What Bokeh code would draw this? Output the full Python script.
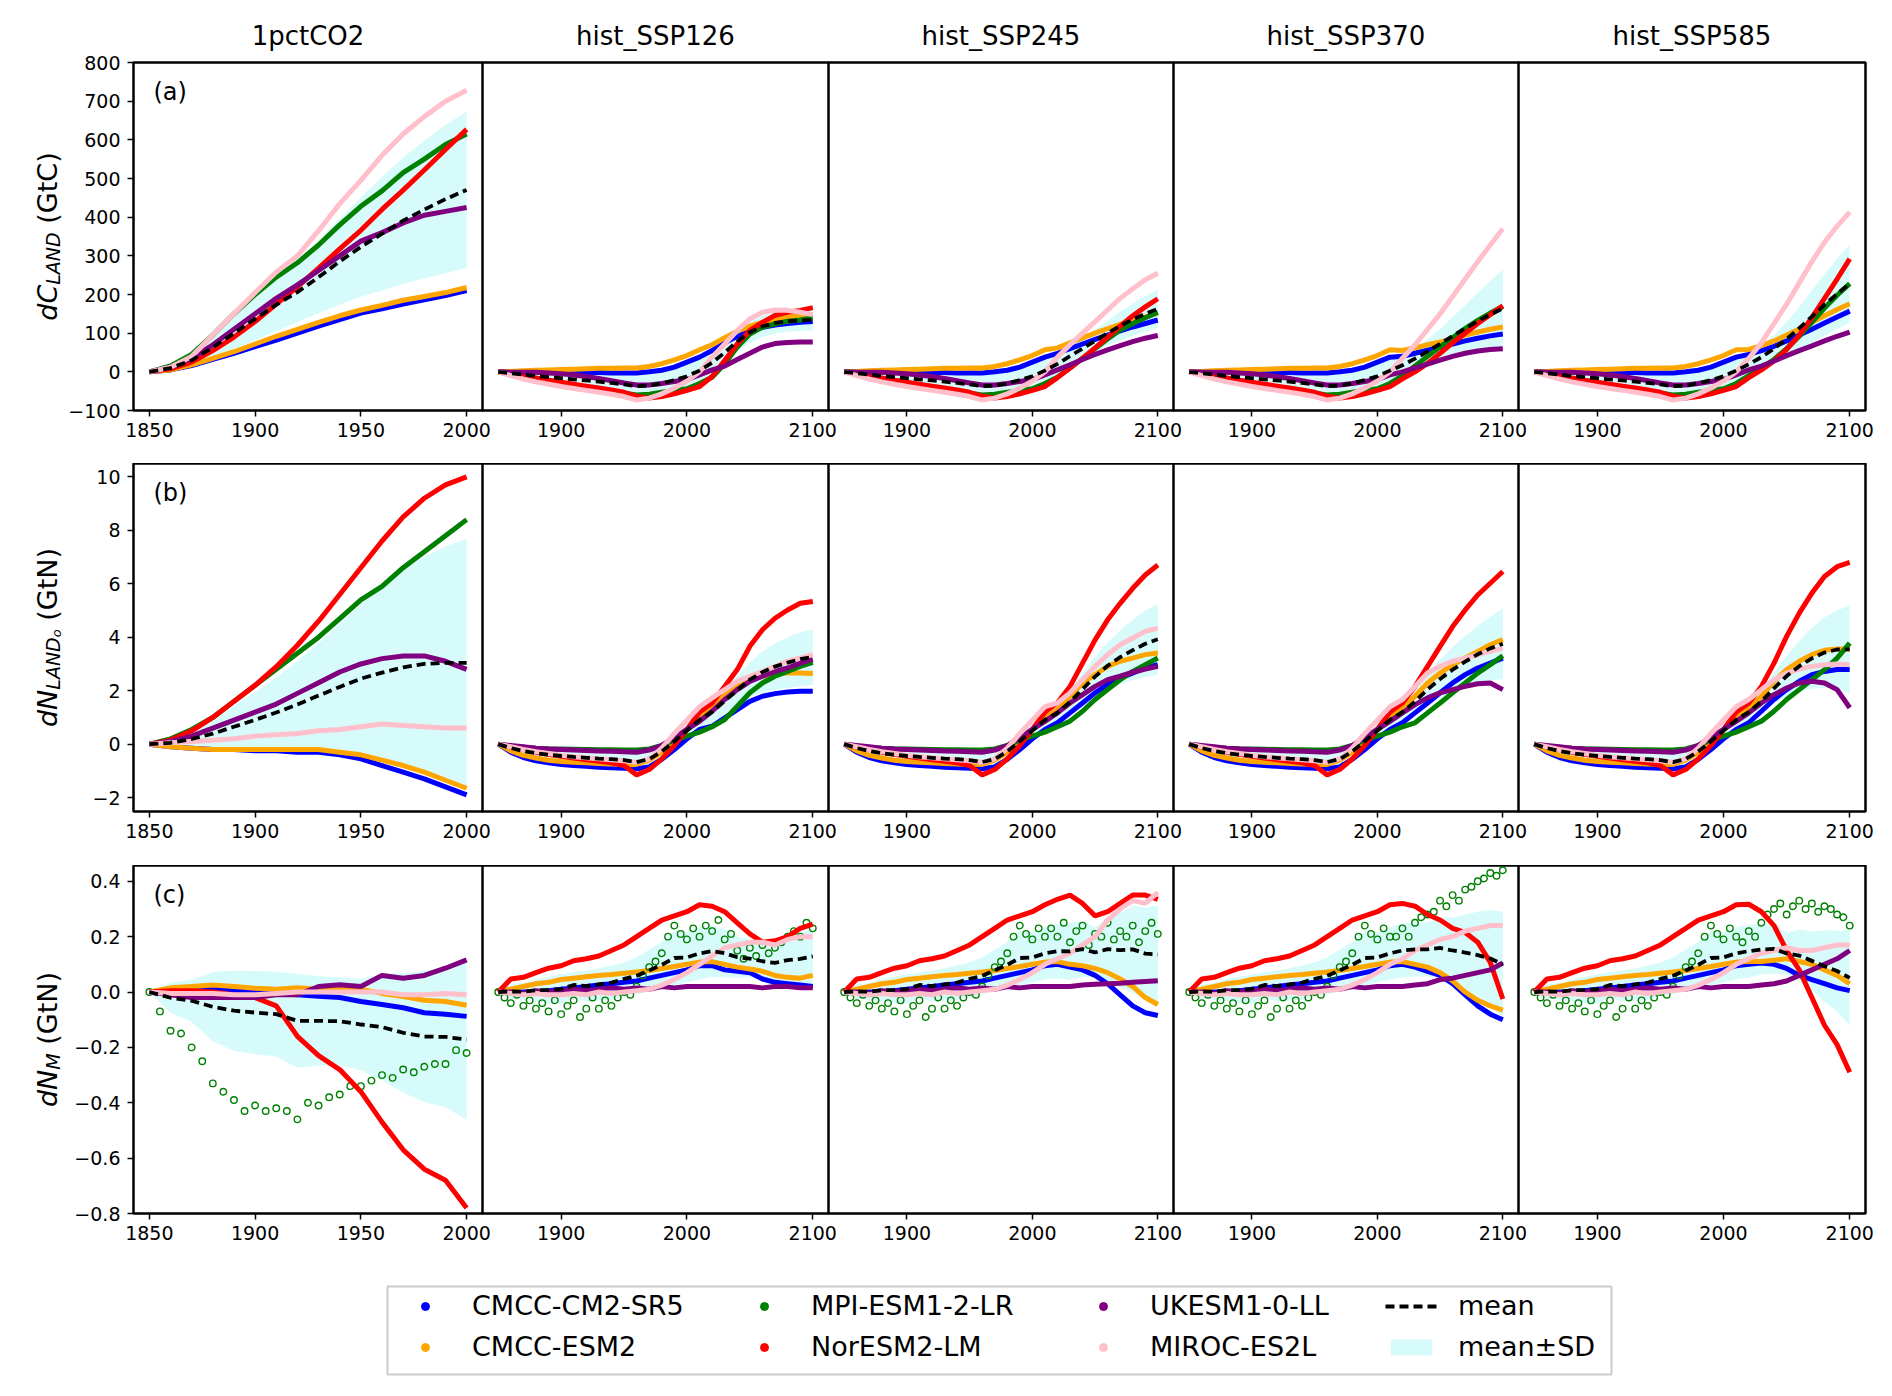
import numpy as np
from bokeh.plotting import figure
from bokeh.models import (Range1d, FixedTicker, CustomJSTickFormatter, Label,
                          Legend, LegendItem, Title, ColumnDataSource)
from bokeh.layouts import row, column
from bokeh.embed import file_html
from bokeh.resources import INLINE

FONT = "DejaVu Sans"

MODELS = ["CMCC-CM2-SR5", "CMCC-ESM2", "MPI-ESM1-2-LR", "NorESM2-LM", "UKESM1-0-LL", "MIROC-ES2L"]
COLORS = ["blue", "orange", "green", "red", "purple", "pink"]
SCENARIOS = ["1pctCO2", "hist_SSP126", "hist_SSP245", "hist_SSP370", "hist_SSP585"]

YEARS_1PCT = list(range(1850, 2001, 10))
YEARS_1PCT_5 = list(range(1850, 2001, 5))
YEARS_HIST = list(range(1850, 2011, 10))
YEARS_HIST_5 = list(range(1850, 2011, 5))
YEARS_SSP = list(range(2020, 2101, 10))
YEARS_SSP_5 = list(range(2015, 2101, 5))

# ---------------- (a) dC_LAND (GtC) ----------------
dC_1pct = {
    "CMCC-CM2-SR5": [0, 5, 16, 32, 48, 65, 82, 100, 118, 135, 152, 163, 175, 186, 197, 210],
    "CMCC-ESM2":    [0, 5, 18, 35, 52, 72, 92, 110, 128, 145, 160, 172, 185, 195, 205, 218],
    "MPI-ESM1-2-LR": [0, 15, 45, 95, 150, 200, 245, 282, 328, 380, 428, 468, 515, 550, 588, 615],
    "NorESM2-LM":   [0, 8, 25, 55, 90, 130, 175, 220, 268, 318, 366, 420, 470, 522, 575, 627],
    "UKESM1-0-LL":  [0, 12, 35, 70, 110, 150, 190, 225, 262, 300, 338, 360, 385, 405, 415, 425],
    "MIROC-ES2L":   [0, 12, 40, 95, 150, 205, 258, 300, 365, 435, 495, 560, 615, 660, 700, 728],
}
dC_hist = {
    "CMCC-CM2-SR5": [0, 0, 0, 0, 0, 0, -1, -2, -2, -3, -3, -3, 0, 4, 12, 25, 38],
    "CMCC-ESM2":    [0, 1, 3, 4, 5, 6, 7, 8, 9, 9, 10, 10, 14, 21, 31, 42, 57],
    "MPI-ESM1-2-LR": [0, -7, -15, -24, -30, -35, -39, -43, -47, -51, -55, -60, -58, -53, -48, -44, -30],
    "NorESM2-LM":   [0, -5, -10, -16, -22, -27, -32, -37, -42, -47, -53, -63, -68, -64, -57, -48, -38],
    "UKESM1-0-LL":  [0, -1, -1, -1, -3, -5, -8, -12, -17, -23, -29, -34, -34, -30, -25, -20, -8],
    "MIROC-ES2L":   [0, -10, -19, -26, -32, -38, -43, -48, -53, -58, -64, -73, -68, -57, -42, -24, 0],
}
dC_ssp126 = {
    "CMCC-CM2-SR5": [55, 75, 92, 105, 115, 121, 125, 128, 130],
    "CMCC-ESM2":    [70, 88, 105, 118, 128, 135, 141, 145, 148],
    "MPI-ESM1-2-LR": [-14, 21, 64, 98, 116, 124, 131, 134, 139],
    "NorESM2-LM":   [-12, 29, 72, 107, 128, 146, 154, 159, 166],
    "UKESM1-0-LL":  [5, 15, 32, 48, 64, 73, 76, 77, 77],
    "MIROC-ES2L":   [38, 72, 107, 137, 154, 160, 159, 154, 148],
}
dC_ssp245 = {
    "CMCC-CM2-SR5": [48, 60, 72, 84, 95, 106, 116, 125, 134],
    "CMCC-ESM2":    [62, 75, 88, 100, 112, 123, 133, 142, 152],
    "MPI-ESM1-2-LR": [-14, 10, 35, 60, 85, 108, 125, 140, 154],
    "NorESM2-LM":   [-15, 10, 35, 62, 90, 118, 145, 168, 189],
    "UKESM1-0-LL":  [5, 18, 32, 45, 57, 68, 78, 87, 94],
    "MIROC-ES2L":   [38, 70, 100, 130, 160, 190, 215, 238, 255],
}
dC_ssp370 = {
    "CMCC-CM2-SR5": [40, 48, 56, 64, 72, 80, 87, 93, 98],
    "CMCC-ESM2":    [55, 62, 70, 77, 86, 95, 103, 110, 116],
    "MPI-ESM1-2-LR": [-10, 15, 40, 65, 88, 112, 133, 152, 169],
    "NorESM2-LM":   [-18, 0, 22, 48, 75, 100, 125, 148, 171],
    "UKESM1-0-LL":  [0, 10, 20, 30, 40, 48, 54, 58, 60],
    "MIROC-ES2L":   [35, 70, 110, 150, 195, 240, 285, 328, 370],
}
dC_ssp585 = {
    "CMCC-CM2-SR5": [45, 55, 66, 80, 95, 110, 126, 142, 157],
    "CMCC-ESM2":    [58, 68, 80, 95, 110, 128, 145, 161, 176],
    "MPI-ESM1-2-LR": [-10, 10, 32, 60, 92, 128, 165, 198, 228],
    "NorESM2-LM":   [-15, 5, 28, 58, 95, 140, 190, 240, 292],
    "UKESM1-0-LL":  [5, 15, 28, 42, 55, 67, 80, 92, 103],
    "MIROC-ES2L":   [35, 75, 125, 175, 230, 285, 335, 377, 413],
}

# ---------------- (b) dN_LANDo (GtN) ----------------
dN_1pct = {
    "CMCC-CM2-SR5": [0, -0.1, -0.15, -0.2, -0.2, -0.25, -0.25, -0.3, -0.3, -0.4, -0.55, -0.8, -1.05, -1.3, -1.6, -1.9],
    "CMCC-ESM2":    [0, -0.1, -0.15, -0.2, -0.2, -0.2, -0.2, -0.2, -0.2, -0.3, -0.4, -0.6, -0.8, -1.05, -1.35, -1.65],
    "MPI-ESM1-2-LR": [0, 0.2, 0.55, 1.0, 1.6, 2.2, 2.8, 3.4, 4.0, 4.7, 5.4, 5.9, 6.6, 7.2, 7.8, 8.4],
    "NorESM2-LM":   [0, 0.15, 0.5, 1.0, 1.6, 2.2, 2.9, 3.7, 4.6, 5.6, 6.6, 7.6, 8.5, 9.2, 9.7, 10.0],
    "UKESM1-0-LL":  [0, 0.1, 0.3, 0.6, 0.9, 1.2, 1.5, 1.9, 2.3, 2.7, 3.0, 3.2, 3.3, 3.3, 3.1, 2.8],
    "MIROC-ES2L":   [0, 0.05, 0.1, 0.15, 0.2, 0.3, 0.35, 0.4, 0.5, 0.55, 0.65, 0.75, 0.7, 0.65, 0.6, 0.6],
}
dN_hist = {
    "CMCC-CM2-SR5": [0, -0.3, -0.5, -0.62, -0.7, -0.76, -0.8, -0.83, -0.86, -0.88, -0.9, -0.92, -0.85, -0.57, -0.2, 0.2, 0.55],
    "CMCC-ESM2":    [0, -0.25, -0.42, -0.52, -0.6, -0.65, -0.68, -0.7, -0.72, -0.74, -0.76, -0.76, -0.6, -0.3, 0.1, 0.55, 1.0],
    "MPI-ESM1-2-LR": [0, -0.08, -0.12, -0.15, -0.17, -0.18, -0.19, -0.2, -0.21, -0.21, -0.22, -0.22, -0.18, -0.05, 0.15, 0.3, 0.45],
    "NorESM2-LM":   [0, -0.1, -0.2, -0.3, -0.38, -0.45, -0.52, -0.58, -0.64, -0.7, -0.8, -1.15, -0.95, -0.55, -0.05, 0.55, 1.2],
    "UKESM1-0-LL":  [0, -0.05, -0.1, -0.15, -0.18, -0.2, -0.22, -0.24, -0.26, -0.27, -0.28, -0.3, -0.22, -0.05, 0.25, 0.55, 0.85],
    "MIROC-ES2L":   [0, -0.1, -0.2, -0.28, -0.35, -0.42, -0.47, -0.51, -0.55, -0.58, -0.62, -0.68, -0.55, -0.15, 0.4, 0.9, 1.4],
}
dN_ssp126 = {
    "CMCC-CM2-SR5": [0.67, 0.98, 1.29, 1.6, 1.79, 1.89, 1.95, 1.98, 1.98],
    "CMCC-ESM2":    [1.42, 1.92, 2.23, 2.41, 2.54, 2.64, 2.66, 2.66, 2.64],
    "MPI-ESM1-2-LR": [0.65, 0.92, 1.42, 1.92, 2.29, 2.54, 2.72, 2.91, 3.06],
    "NorESM2-LM":   [1.54, 2.16, 2.79, 3.66, 4.28, 4.71, 5.02, 5.27, 5.34],
    "UKESM1-0-LL":  [1.23, 1.67, 2.04, 2.35, 2.54, 2.72, 2.85, 3.03, 3.18],
    "MIROC-ES2L":   [1.73, 2.04, 2.35, 2.54, 2.72, 2.91, 3.1, 3.22, 3.35],
}
dN_ssp245 = {
    "CMCC-CM2-SR5": [0.8, 1.17, 1.54, 1.92, 2.23, 2.48, 2.66, 2.85, 2.97],
    "CMCC-ESM2":    [1.29, 1.79, 2.29, 2.6, 2.91, 3.1, 3.22, 3.35, 3.41],
    "MPI-ESM1-2-LR": [0.65, 0.86, 1.23, 1.67, 2.04, 2.41, 2.72, 2.97, 3.22],
    "NorESM2-LM":   [1.55, 2.16, 3.03, 3.9, 4.65, 5.27, 5.83, 6.33, 6.7],
    "UKESM1-0-LL":  [1.17, 1.54, 1.85, 2.16, 2.41, 2.54, 2.69, 2.81, 2.91],
    "MIROC-ES2L":   [1.54, 1.92, 2.41, 2.91, 3.35, 3.72, 3.97, 4.22, 4.34],
}
dN_ssp370 = {
    "CMCC-CM2-SR5": [0.8, 1.17, 1.54, 1.92, 2.29, 2.6, 2.85, 3.03, 3.22],
    "CMCC-ESM2":    [1.36, 1.79, 2.29, 2.66, 2.97, 3.22, 3.47, 3.72, 3.91],
    "MPI-ESM1-2-LR": [0.65, 0.8, 1.17, 1.54, 1.92, 2.29, 2.66, 2.97, 3.31],
    "NorESM2-LM":   [1.54, 2.16, 2.91, 3.66, 4.4, 5.02, 5.58, 6.02, 6.46],
    "UKESM1-0-LL":  [1.17, 1.48, 1.73, 1.92, 2.04, 2.16, 2.26, 2.29, 2.04],
    "MIROC-ES2L":   [1.67, 2.16, 2.66, 2.91, 3.1, 3.22, 3.35, 3.47, 3.6],
}
dN_ssp585 = {
    "CMCC-CM2-SR5": [0.8, 1.23, 1.67, 2.04, 2.35, 2.6, 2.72, 2.79, 2.79],
    "CMCC-ESM2":    [1.36, 1.79, 2.35, 2.79, 3.1, 3.35, 3.51, 3.56, 3.56],
    "MPI-ESM1-2-LR": [0.65, 0.86, 1.23, 1.67, 2.04, 2.41, 2.79, 3.22, 3.78],
    "NorESM2-LM":   [1.54, 2.16, 3.03, 4.03, 4.9, 5.65, 6.27, 6.64, 6.8],
    "UKESM1-0-LL":  [1.17, 1.54, 1.85, 2.1, 2.29, 2.35, 2.29, 2.04, 1.36],
    "MIROC-ES2L":   [1.67, 2.04, 2.41, 2.66, 2.81, 2.91, 2.97, 3.0, 2.97],
}

# ---------------- (c) dN_M (GtN) ----------------
# MPI-ESM1-2-LR is read every 5 years (scattered points); others every 10 years
dNM_1pct = {
    "CMCC-CM2-SR5": [0, 0.01, 0.01, 0.01, 0.005, 0.0, -0.005, -0.01, -0.015, -0.02, -0.034, -0.045, -0.057, -0.075, -0.08, -0.088],
    "CMCC-ESM2":    [0, 0.015, 0.02, 0.025, 0.02, 0.014, 0.01, 0.015, 0.01, 0.01, 0.01, -0.005, -0.016, -0.03, -0.034, -0.048],
    "MPI-ESM1-2-LR": [0.0, -0.07, -0.14, -0.15, -0.2, -0.25, -0.33, -0.36, -0.39, -0.43, -0.41, -0.43, -0.42, -0.43,
                      -0.46, -0.40, -0.41, -0.38, -0.37, -0.34, -0.34, -0.32, -0.30, -0.31, -0.28, -0.29, -0.27,
                      -0.26, -0.26, -0.21, -0.22],
    "NorESM2-LM":   [0, 0.005, 0.005, 0.0, -0.01, -0.02, -0.05, -0.16, -0.23, -0.28, -0.36, -0.47, -0.57, -0.64, -0.68, -0.78],
    "UKESM1-0-LL":  [0, -0.01, -0.02, -0.02, -0.02, -0.02, -0.01, -0.01, 0.02, 0.026, 0.02, 0.06, 0.05, 0.06, 0.086, 0.116],
    "MIROC-ES2L":   [0, -0.005, -0.005, -0.005, -0.01, -0.01, -0.005, 0.0, 0.0, 0.0, 0.0, 0.0, -0.01, -0.01, -0.005, -0.01],
}
dNM_hist = {
    "CMCC-CM2-SR5": [0, 0.0, 0.0, 0.0, 0.005, 0.01, 0.015, 0.02, 0.025, 0.03, 0.035, 0.04, 0.05, 0.06, 0.07, 0.08, 0.095],
    "CMCC-ESM2":    [0, 0.01, 0.02, 0.03, 0.035, 0.045, 0.05, 0.055, 0.06, 0.063, 0.068, 0.072, 0.078, 0.085, 0.092, 0.1, 0.108],
    "MPI-ESM1-2-LR": [0.0, -0.02, -0.04, -0.01, -0.05, -0.03, -0.06, -0.04, -0.07, -0.03, -0.08, -0.05, -0.03, -0.09,
                      -0.06, -0.02, -0.06, -0.03, -0.05, -0.02, 0.0, -0.01, 0.02, 0.06, 0.09, 0.11, 0.14, 0.2, 0.24,
                      0.21, 0.19, 0.23, 0.2],
    "NorESM2-LM":   [0, 0.047, 0.053, 0.07, 0.086, 0.095, 0.113, 0.12, 0.13, 0.15, 0.17, 0.2, 0.23, 0.26, 0.275, 0.29, 0.315],
    "UKESM1-0-LL":  [0, 0.0, -0.005, 0.005, 0.0, 0.005, 0.01, 0.005, 0.01, 0.015, 0.01, 0.015, 0.01, 0.02, 0.015, 0.02, 0.02],
    "MIROC-ES2L":   [0, -0.005, -0.01, -0.005, -0.01, -0.01, -0.005, -0.01, 0.0, -0.005, 0.0, 0.005, 0.01, 0.025, 0.045, 0.07, 0.1],
}
dNM_ssp126 = {
    "CMCC-CM2-SR5": [0.095, 0.08, 0.075, 0.07, 0.047, 0.035, 0.03, 0.025, 0.02],
    "CMCC-ESM2":    [0.11, 0.1, 0.09, 0.083, 0.075, 0.06, 0.053, 0.05, 0.06],
    "MPI-ESM1-2-LR": [0.24, 0.22, 0.26, 0.19, 0.21, 0.15, 0.12, 0.16, 0.13, 0.17, 0.14, 0.16, 0.18, 0.2, 0.22, 0.2, 0.25, 0.23],
    "NorESM2-LM":   [0.31, 0.29, 0.25, 0.21, 0.18, 0.185, 0.2, 0.23, 0.245],
    "UKESM1-0-LL":  [0.02, 0.02, 0.02, 0.02, 0.015, 0.02, 0.02, 0.015, 0.015],
    "MIROC-ES2L":   [0.13, 0.16, 0.17, 0.18, 0.18, 0.17, 0.19, 0.2, 0.2],
}
dNM_ssp245 = {
    "CMCC-CM2-SR5": [0.1, 0.09, 0.08, 0.06, 0.03, -0.01, -0.05, -0.075, -0.085],
    "CMCC-ESM2":    [0.11, 0.1, 0.095, 0.085, 0.07, 0.047, 0.02, -0.02, -0.045],
    "MPI-ESM1-2-LR": [0.23, 0.2, 0.25, 0.18, 0.22, 0.24, 0.17, 0.21, 0.2, 0.25, 0.19, 0.22, 0.2, 0.24, 0.18, 0.22, 0.25, 0.21],
    "NorESM2-LM":   [0.335, 0.35, 0.32, 0.275, 0.29, 0.32, 0.35, 0.35, 0.335],
    "UKESM1-0-LL":  [0.02, 0.02, 0.025, 0.028, 0.03, 0.032, 0.035, 0.038, 0.041],
    "MIROC-ES2L":   [0.12, 0.14, 0.17, 0.2, 0.26, 0.3, 0.33, 0.32, 0.36],
}
dNM_ssp370 = {
    "CMCC-CM2-SR5": [0.1, 0.09, 0.075, 0.06, 0.03, -0.01, -0.05, -0.08, -0.1],
    "CMCC-ESM2":    [0.11, 0.1, 0.09, 0.07, 0.04, 0.0, -0.03, -0.05, -0.065],
    "MPI-ESM1-2-LR": [0.2, 0.23, 0.2, 0.25, 0.27, 0.28, 0.29, 0.33, 0.31, 0.35, 0.33, 0.37, 0.38, 0.4, 0.41, 0.43, 0.42, 0.44],
    "NorESM2-LM":   [0.32, 0.31, 0.28, 0.26, 0.23, 0.215, 0.18, 0.107, -0.025],
    "UKESM1-0-LL":  [0.02, 0.025, 0.03, 0.045, 0.05, 0.06, 0.07, 0.08, 0.105],
    "MIROC-ES2L":   [0.12, 0.15, 0.17, 0.19, 0.2, 0.22, 0.23, 0.24, 0.24],
}
dNM_ssp585 = {
    "CMCC-CM2-SR5": [0.1, 0.105, 0.1, 0.085, 0.06, 0.045, 0.03, 0.015, 0.005],
    "CMCC-ESM2":    [0.11, 0.11, 0.115, 0.12, 0.11, 0.1, 0.08, 0.06, 0.03],
    "MPI-ESM1-2-LR": [0.18, 0.22, 0.2, 0.25, 0.28, 0.3, 0.32, 0.28, 0.31, 0.33, 0.3, 0.32, 0.29, 0.31, 0.3, 0.28, 0.27, 0.24],
    "NorESM2-LM":   [0.317, 0.29, 0.24, 0.15, 0.08, -0.02, -0.12, -0.19, -0.29],
    "UKESM1-0-LL":  [0.02, 0.025, 0.03, 0.04, 0.06, 0.08, 0.1, 0.12, 0.15],
    "MIROC-ES2L":   [0.12, 0.14, 0.15, 0.16, 0.15, 0.15, 0.16, 0.17, 0.17],
}

VARS = [
    {"1pctCO2": dC_1pct, "hist": dC_hist, "hist_SSP126": dC_ssp126, "hist_SSP245": dC_ssp245,
     "hist_SSP370": dC_ssp370, "hist_SSP585": dC_ssp585},
    {"1pctCO2": dN_1pct, "hist": dN_hist, "hist_SSP126": dN_ssp126, "hist_SSP245": dN_ssp245,
     "hist_SSP370": dN_ssp370, "hist_SSP585": dN_ssp585},
    {"1pctCO2": dNM_1pct, "hist": dNM_hist, "hist_SSP126": dNM_ssp126, "hist_SSP245": dNM_ssp245,
     "hist_SSP370": dNM_ssp370, "hist_SSP585": dNM_ssp585},
]
PANEL_TAGS = ["(a)", "(b)", "(c)"]
ROW_YRANGE = [(-100, 800), (-2.52, 10.5), (-0.8, 0.457)]
ROW_YTICKS = [list(range(-100, 801, 100)), list(range(-2, 11, 2)), [-0.8, -0.6, -0.4, -0.2, 0.0, 0.2, 0.4]]
ROW_DEC = [0, 0, 1]
SCATTER_SERIES = {(2, "MPI-ESM1-2-LR")}

BAND = "#D7FAFA"

# ---------------- layout constants ----------------
FRAME_W = [349, 346, 345, 345, 347]
FRAME_H = 348
FRAME_X0 = 133                 # left edge of the first panel frame
LEFT = [69, 50, 64]            # border of first panel (room for tick labels), per row
OVER = 26
RIGHT_LAST = 14
TOP = [62, 0, 0]
BOTTOM = [53, 54, 50]
YLABEL_BASE_X = 47

ADV = {"d": 0.635, "C": 0.698, "N": 0.748, "L": 0.557, "A": 0.684, "D": 0.770, "M": 0.863,
       "o": 0.612, " ": 0.318, "(": 0.390, ")": 0.390, "G": 0.775, "t": 0.392}
# (text, style, font px, baseline shift px, gap before in px)
YLABELS = [
    [("dC", "italic", 27, 0, 0), ("LAND", "italic", 19, 5, 0), ("(GtC)", "normal", 27, 0, 8.6)],
    [("dN", "italic", 27, 0, 0), ("LAND", "italic", 19, 5, 0), ("o", "italic", 13, 9, 0),
     ("(GtN)", "normal", 27, 0, 8.6)],
    [("dN", "italic", 27, 0, 0), ("M", "italic", 19, 5, 0), ("(GtN)", "normal", 27, 0, 8.6)],
]


def pick_years(vals, dec, five):
    return dec if len(vals) == len(dec) else five


def series(r, c, m):
    var = VARS[r]
    if c == 0:
        v = var["1pctCO2"][m]
        return pick_years(v, YEARS_1PCT, YEARS_1PCT_5), v
    h = var["hist"][m]
    s = var[SCENARIOS[c]][m]
    return pick_years(h, YEARS_HIST, YEARS_HIST_5) + pick_years(s, YEARS_SSP, YEARS_SSP_5), h + s


def fmt(dec):
    return CustomJSTickFormatter(code="""
        const v = Math.abs(tick) < 1e-9 ? 0 : tick;
        return v.toFixed(%d).replace('-', '\u2212');
    """ % dec)


def text_w(t, sz):
    return sum(ADV[ch] for ch in t) * sz


def make_label_fig(r):
    w = FRAME_X0 - LEFT[r]
    p = figure(frame_width=w, frame_height=FRAME_H, x_range=Range1d(0, 1), y_range=Range1d(0, 1),
               toolbar_location=None, output_backend="svg", x_axis_location=None, y_axis_location=None,
               min_border_left=0, min_border_right=0, min_border_top=TOP[r], min_border_bottom=BOTTOM[r])
    p.grid.visible = False
    p.outline_line_color = None
    p.background_fill_color = None
    p.border_fill_color = None
    parts = YLABELS[r]
    total = sum(text_w(t, sz) + gap for t, st, sz, sh, gap in parts)
    ypos = FRAME_H / 2 - total / 2
    for t, st, sz, sh, gap in parts:
        ypos += gap
        p.add_layout(Label(x=YLABEL_BASE_X + sh, y=ypos, x_units="screen", y_units="screen", text=t,
                           angle=np.pi / 2, text_align="left", text_baseline="alphabetic",
                           text_font=FONT, text_font_size=f"{sz}px", text_font_style=st,
                           text_color="black"))
        ypos += text_w(t, sz)
    return p


def make_panel(r, c):
    xr = Range1d(1842.5, 2007.5) if c == 0 else Range1d(1837.5, 2112.5)
    yr = Range1d(*ROW_YRANGE[r])
    kw = dict(frame_width=FRAME_W[c], frame_height=FRAME_H, x_range=xr, y_range=yr,
              toolbar_location=None, output_backend="svg",
              min_border_left=LEFT[r] if c == 0 else 0,
              min_border_right=OVER if c < 4 else RIGHT_LAST,
              min_border_top=TOP[r], min_border_bottom=BOTTOM[r],
              y_axis_location="left" if c == 0 else None)
    if c > 0:
        kw["margin"] = (0, 0, 0, -OVER)
    p = figure(**kw)
    p.grid.visible = False
    p.background_fill_color = "white"
    p.border_fill_color = None
    p.outline_line_color = "black"
    p.outline_line_width = 2.5
    p.outline_line_alpha = 1.0

    xa = p.xaxis[0]
    xa.ticker = FixedTicker(ticks=[1850, 1900, 1950, 2000] if c == 0 else [1900, 2000, 2100])
    xa.axis_line_color = None
    xa.major_tick_out = 6
    xa.major_tick_in = 0
    xa.major_tick_line_width = 1.5
    xa.minor_tick_line_color = None
    xa.major_label_text_font = FONT
    xa.major_label_text_font_size = "19px"
    xa.major_label_text_color = "black"
    xa.major_label_standoff = 6

    if c == 0:
        ya = p.yaxis[0]
        ya.ticker = FixedTicker(ticks=ROW_YTICKS[r])
        ya.formatter = fmt(ROW_DEC[r])
        ya.axis_line_color = None
        ya.major_tick_out = 6
        ya.major_tick_in = 0
        ya.major_tick_line_width = 1.5
        ya.minor_tick_line_color = None
        ya.major_label_text_font = FONT
        ya.major_label_text_font_size = "19px"
        ya.major_label_text_color = "black"
        ya.major_label_standoff = 7

    if r == 0:
        p.title = Title(text=SCENARIOS[c], align="center", text_font=FONT, text_color="black",
                        text_font_size="26px", text_font_style="normal", standoff=23)

    # mean and SD across models on the common decade grid
    grid = YEARS_1PCT if c == 0 else YEARS_HIST + YEARS_SSP
    stack = []
    for m in MODELS:
        x, y = series(r, c, m)
        d = dict(zip(x, y))
        stack.append([d[g] for g in grid])
    stack = np.array(stack, dtype=float)
    mean = stack.mean(axis=0)
    sd = stack.std(axis=0)

    p.varea(x=grid, y1=mean - sd, y2=mean + sd, fill_color=BAND, fill_alpha=1.0)
    for m, col in zip(MODELS, COLORS):
        x, y = series(r, c, m)
        if (r, m) in SCATTER_SERIES:
            p.scatter(x, y, marker="circle", size=6.5, fill_color=None, line_color=col, line_width=1.4)
        else:
            p.line(x, y, line_color=col, line_width=5)
    p.line(grid, mean, line_color="black", line_width=3.8, line_dash="9 5")

    if c == 0:
        p.add_layout(Label(x=20, y=FRAME_H - 15, x_units="screen", y_units="screen",
                           text=PANEL_TAGS[r], text_font=FONT, text_font_size="24px",
                           text_baseline="top", text_align="left", text_color="black"))
    return p


rows = []
for r in range(3):
    rows.append(row(make_label_fig(r), *[make_panel(r, c) for c in range(5)]))

# ---------------- legend box ----------------
holder = figure(frame_width=1224, frame_height=88, x_range=Range1d(0, 1), y_range=Range1d(0, 1),
                toolbar_location=None, output_backend="svg", x_axis_location=None, y_axis_location=None,
                min_border_left=387, min_border_right=266, min_border_top=23, min_border_bottom=10)
holder.grid.visible = False
holder.outline_line_color = "#cccccc"
holder.outline_line_width = 2
holder.background_fill_color = "white"
holder.border_fill_color = None

nan_src = dict(x=np.array([np.nan]), y=np.array([np.nan]))
model_items = []
for m, col in zip(MODELS, COLORS):
    rr = holder.scatter(x="x", y="y", source=ColumnDataSource(dict(nan_src)), marker="circle",
                        size=10, fill_color=col, line_color=col)
    model_items.append(LegendItem(label=m, renderers=[rr]))
r_mean = holder.line(x="x", y="y", source=ColumnDataSource(dict(nan_src)), line_color="black",
                     line_width=3.8, line_dash="9 5")
r_band = holder.varea(x="x", y1="y", y2="y", source=ColumnDataSource(dict(nan_src)), fill_color=BAND)

common = dict(glyph_width=52, glyph_height=20, label_standoff=21, label_text_font=FONT,
              label_text_font_size="27px", label_text_color="black", label_height=20, spacing=10,
              padding=0, margin=0, border_line_color=None, background_fill_alpha=0)
legA = Legend(items=model_items, location=(12, 12), orientation="vertical", nrows=2,
              label_width=256, **common)
legB = Legend(items=[LegendItem(label="mean", renderers=[r_mean]),
                     LegendItem(label="mean\u00b1SD", renderers=[r_band])],
              location=(998, 12), orientation="vertical", label_width=20, **common)
holder.add_layout(legA, "center")
holder.add_layout(legB, "center")

layout = column(*rows, holder)
open("out.html", "w").write(file_html(layout, INLINE, title="dC dN panels"))
